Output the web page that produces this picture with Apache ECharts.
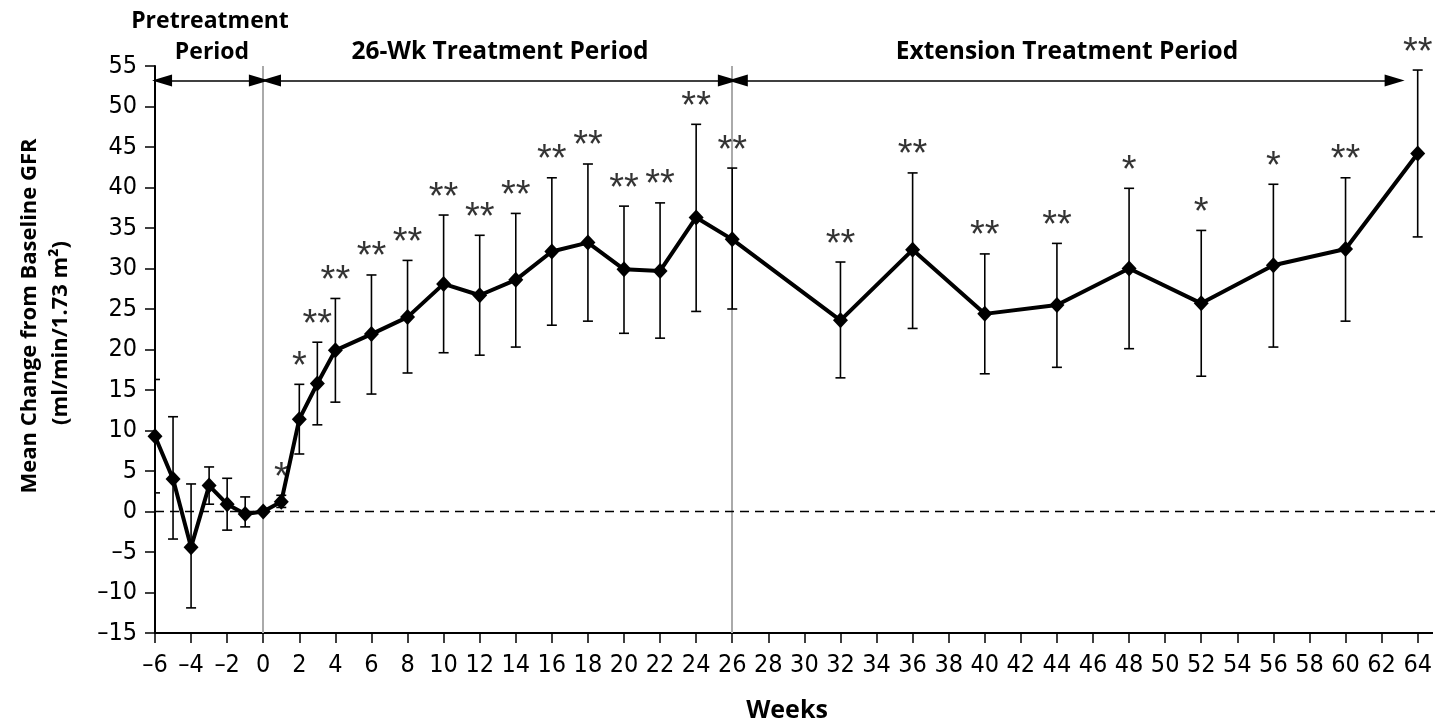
<!DOCTYPE html>
<html><head><meta charset="utf-8">
<script src="https://cdn.jsdelivr.net/npm/echarts@6/dist/echarts.min.js"></script>
<style>html,body{margin:0;padding:0;background:#fff}#c{width:1435px;height:724px}</style>
</head><body><div id="c"></div>
<script>
const weeks = [-6,-5,-4,-3,-2,-1,0,1,2,3,4,6,8,10,12,14,16,18,20,22,24,26,32,36,40,44,48,52,56,60,64];
const meanChange = [9.3,4.0,-4.4,3.2,0.9,-0.3,0,1.2,11.4,15.8,19.9,21.9,24.0,28.1,26.7,28.6,32.1,33.2,29.9,29.7,36.3,33.6,23.6,32.3,24.4,25.5,30.0,25.7,30.4,32.4,44.2];
const errUpper = [16.3,11.7,3.4,5.5,4.1,1.8,0,2.0,15.7,20.9,26.3,29.2,31.0,36.6,34.1,36.8,41.2,42.9,37.7,38.1,47.8,42.4,30.8,41.8,31.8,33.1,39.9,34.7,40.4,41.2,54.5];
const errLower = [2.3,-3.4,-11.9,0.9,-2.3,-1.9,0,0.5,7.1,10.7,13.5,14.5,17.1,19.6,19.3,20.3,23.0,23.5,22.0,21.4,24.7,25.0,16.5,22.6,17.0,17.8,20.1,16.7,20.3,23.5,33.9];
const significance = ['','','','','','','','*','*','**','**','**','**','**','**','**','**','**','**','**','**','**','**','**','**','**','*','*','*','**','**'];
const xTicks = {min:-6, max:64, interval:2};
const yTicks = {min:-15, max:55, interval:5};
const periodLabels = ['Pretreatment', 'Period', '26-Wk Treatment Period', 'Extension Treatment Period'];

const tickFont = '"Liberation Sans Narrow","DejaVu Sans Condensed","Liberation Sans",sans-serif';
const boldFont = '"Open Sans","Noto Sans",sans-serif';
const dash = v => String(v).replace('-', '\u2013');

const chart = echarts.init(document.getElementById('c'), null, {renderer:'canvas'});
const option = {
  animation:false,
  backgroundColor:'#fff',
  grid:{left:155, right:17, top:66, bottom:91, containLabel:false},
  xAxis:{type:'value', min:xTicks.min, max:xTicks.max, interval:xTicks.interval,
    axisLine:{onZero:false, lineStyle:{color:'#000', width:2}},
    axisTick:{length:10, lineStyle:{color:'#000', width:1.5}},
    splitLine:{show:false},
    axisLabel:{margin:20, fontSize:25, color:'#000', fontFamily:tickFont, formatter:dash}},
  yAxis:{type:'value', min:yTicks.min, max:yTicks.max, interval:yTicks.interval,
    axisLine:{show:true, onZero:false, lineStyle:{color:'#000', width:2}},
    axisTick:{show:true, length:10, lineStyle:{color:'#000', width:1.5}},
    splitLine:{show:false},
    axisLabel:{margin:18, fontSize:25, color:'#000', fontFamily:tickFont, formatter:dash}},
  series:[
    {type:'line', z:1, data:[], silent:true,
      markLine:{z:1, silent:true, symbol:'none', animation:false, label:{show:false},
        lineStyle:{color:'#aaa', width:2, type:'solid'},
        data:[
          [{coord:[0,-15]},{coord:[0,55]}],
          [{coord:[26,-15]},{coord:[26,55]}],
          [{coord:[-5.61,53.2], symbol:'triangle', symbolSize:[12,20], lineStyle:{color:'#000', width:1.6}},
           {coord:[-0.24,53.2], symbol:'triangle', symbolSize:[12,20]}],
          [{coord:[0.43,53.2], symbol:'triangle', symbolSize:[12,20], lineStyle:{color:'#000', width:1.6}},
           {coord:[25.76,53.2], symbol:'triangle', symbolSize:[12,20]}],
          [{coord:[26.31,53.2], symbol:'triangle', symbolSize:[12,20], lineStyle:{color:'#000', width:1.6}},
           {coord:[62.72,53.2], symbol:'triangle', symbolSize:[12,20]}]
        ]}
    },
    {type:'custom', clip:false, z:6,
      data:weeks.map((w,i)=>[w, errLower[i], errUpper[i]]),
      encode:{x:0, y:[1,2]},
      renderItem:function(params, api){
        const lo = api.value(1), hi = api.value(2);
        if (hi === lo) return null;
        const p1 = api.coord([api.value(0), hi]);
        const p2 = api.coord([api.value(0), lo]);
        const hw = 5;
        const left = Math.max(p1[0]-hw, params.coordSys.x);
        const st = {stroke:'#000', lineWidth:1.6};
        return {type:'group', children:[
          {type:'line', shape:{x1:p1[0], y1:p1[1], x2:p2[0], y2:p2[1]}, style:st},
          {type:'line', shape:{x1:left, y1:p1[1], x2:p1[0]+hw, y2:p1[1]}, style:st},
          {type:'line', shape:{x1:left, y1:p2[1], x2:p2[0]+hw, y2:p2[1]}, style:st}
        ]};
      }
    },
    {type:'line', z:7, clip:false,
      data:weeks.map((w,i)=>[w, meanChange[i]]),
      symbol:'diamond', symbolSize:[15,16], showSymbol:true,
      lineStyle:{color:'#000', width:4}, itemStyle:{color:'#000'}
    },
    {type:'scatter', z:8, symbolSize:0, clip:false,
      data:weeks.map((w,i)=>[w, errUpper[i], significance[i]]).filter(d=>d[2]!==''),
      label:{show:true, position:'top', distance:-2, color:'#000', fontSize:38, lineHeight:38,
        fontFamily:'"Liberation Sans",sans-serif', formatter:p=>p.value[2]}
    }
  ]
};
chart.setOption(option);

const z0 = chart.convertToPixel({gridIndex:0}, [xTicks.min, 0]);
const zR = chart.convertToPixel({gridIndex:0}, [xTicks.max, yTicks.min]);
const tf = (t, x, y, size, rot) => ({type:'text', x:x, y:y, rotation:rot||0, silent:true,
  style:{text:t, fill:'#000', font:'bold '+size+'px '+boldFont, textAlign:'center', textVerticalAlign:'middle'}});
chart.setOption({graphic:[
  {type:'line', silent:true, z:1, shape:{x1:z0[0], y1:z0[1], x2:1435, y2:z0[1]}, style:{stroke:'#000', lineWidth:1.5, lineDash:[9,6]}},
  {type:'line', silent:true, shape:{x1:zR[0], y1:zR[1], x2:1433, y2:zR[1]}, style:{stroke:'#000', lineWidth:2}},
  tf(periodLabels[0], 210, 21, 23),
  tf(periodLabels[1], 212, 52, 23),
  tf(periodLabels[2], 500, 52, 24.5),
  tf(periodLabels[3], 1067, 52, 24.5),
  tf('Mean Change from Baseline GFR', 30, 316, 22, Math.PI/2),
  tf('(ml/min/1.73 m\u00B2)', 61, 333, 22, Math.PI/2),
  tf('Weeks', 787, 711, 25)
]});
</script></body></html>
